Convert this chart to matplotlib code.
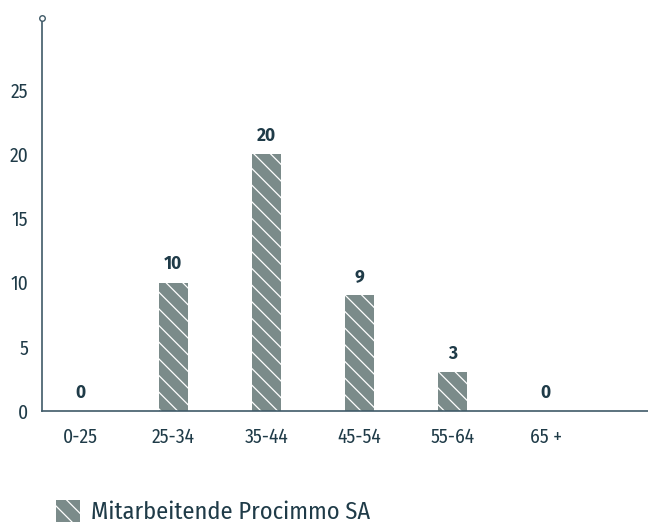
import matplotlib
matplotlib.use("Agg")
import matplotlib.pyplot as plt
from matplotlib.patches import Patch
from matplotlib import font_manager

categories = ["0-25", "25-34", "35-44", "45-54", "55-64", "65 +"]
values = [0, 10, 20, 9, 3, 0]
yticks = [0, 5, 10, 15, 20, 25]
legend_label = "Mitarbeitende Procimmo SA"

names = {f.name for f in font_manager.fontManager.ttflist}
def pick(*cands):
    for c in cands:
        if c in names:
            return c
    return "Open Sans"

cond = pick("Fira Sans Condensed", "Fira Sans", "Barlow Semi Condensed", "Open Sans")
bold = pick("Fira Sans", "Open Sans")

plt.rcParams['font.family'] = [cond, "DejaVu Sans"]
plt.rcParams['hatch.color'] = 'white'
plt.rcParams['hatch.linewidth'] = 0.9

text_c = "#1f3b48"
axis_c = "#3f5a68"
bar_c = "#7b8b8a"
hatch = '\\\\'

fig = plt.figure(figsize=(6.48, 5.24), dpi=100)
ax = fig.add_axes([42/648, 113/524, 1 - 42/648, (411-18)/524])

x = list(range(len(categories)))
ax.bar(x, values, width=0.31, color=bar_c, hatch=hatch, edgecolor='white', linewidth=0)

for xi, v in zip(x, values):
    ax.annotate(str(v), (xi, v), xytext=(0, 7), textcoords='offset points',
                ha='center', va='bottom', fontsize=12.5, fontweight='bold',
                color=text_c, family=[bold, "DejaVu Sans"])

ax.set_xlim(-0.41, 6.1)
ax.set_ylim(0, 30.6)
ax.set_yticks(yticks)
ax.set_xticks(x)
ax.set_xticklabels(categories)
ax.tick_params(axis='both', length=0, labelsize=14, colors=text_c)
ax.tick_params(axis='y', pad=10)
ax.tick_params(axis='x', pad=12)
for s in ['top', 'right']:
    ax.spines[s].set_visible(False)
for s in ['left', 'bottom']:
    ax.spines[s].set_color(axis_c)
    ax.spines[s].set_linewidth(1.2)
ax.plot([-0.41], [30.6], marker='o', markersize=4, markerfacecolor='white',
        markeredgecolor=axis_c, markeredgewidth=1, clip_on=False, zorder=5)

handle = Patch(facecolor=bar_c, hatch=hatch, edgecolor='white', linewidth=0)
fig.legend([handle], [legend_label], loc='lower left', bbox_to_anchor=(56/648, 0.0),
           borderpad=0, borderaxespad=0,
           frameon=False, fontsize=17.5, handlelength=1.0, handleheight=1.0,
           handletextpad=0.45, labelcolor=text_c)

fig.savefig("out.png", dpi=100)
